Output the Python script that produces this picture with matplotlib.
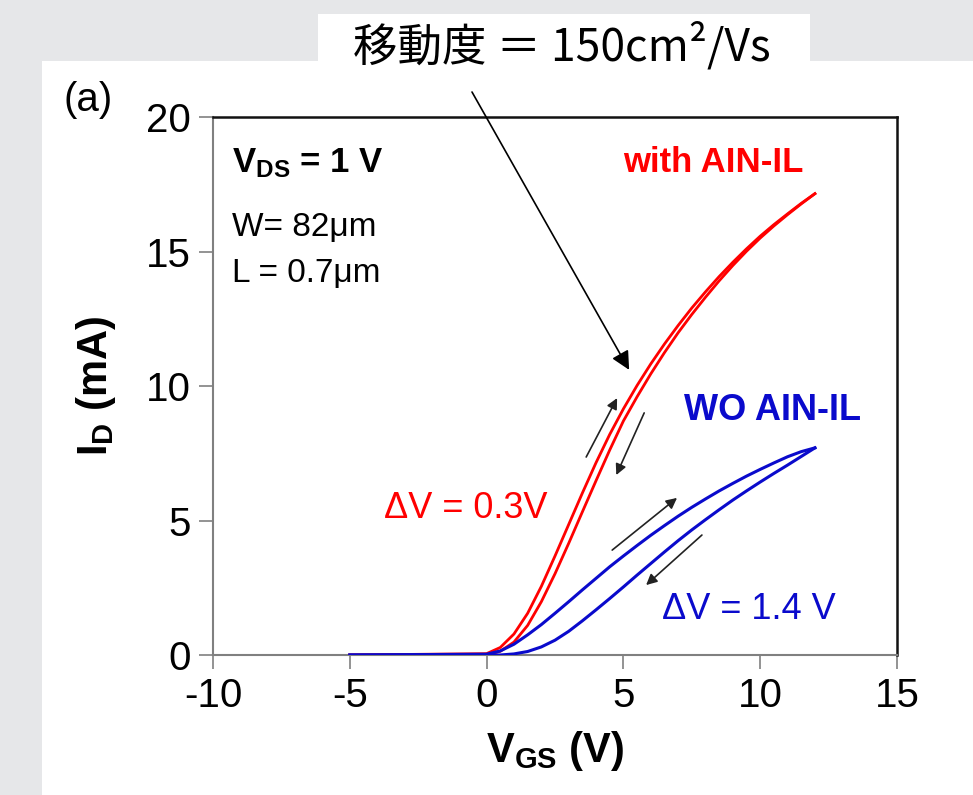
import matplotlib
matplotlib.use('Agg')
import matplotlib.pyplot as plt
from matplotlib.patches import Rectangle

# --- data (V_GS in V, I_D in mA) ---
vgs = [-5.0, 0.0, 0.5, 1.0, 1.5, 2.0, 2.5, 3.0, 3.5, 4.0, 4.5, 5.0, 5.5,
       6.0, 6.5, 7.0, 7.5, 8.0, 8.5, 9.0, 9.5, 10.0, 10.5, 11.0, 11.5, 12.0]

red_fwd = [0.0, 0.05, 0.28, 0.78, 1.55, 2.55, 3.68, 4.85, 6.02, 7.15, 8.2, 9.15, 10.02,
           10.82, 11.56, 12.25, 12.9, 13.5, 14.07, 14.6, 15.1, 15.57, 16.0, 16.4, 16.79, 17.15]
red_rev = [0.0, 0.0, 0.14, 0.48, 1.1, 1.98, 3.02, 4.15, 5.32, 6.48, 7.62, 8.7, 9.6,
           10.45, 11.24, 11.98, 12.66, 13.3, 13.91, 14.48, 15.01, 15.5, 15.95, 16.37, 16.77, 17.15]

blue_fwd = [0.0, 0.03, 0.15, 0.4, 0.75, 1.13, 1.55, 1.98, 2.42, 2.85, 3.28, 3.68, 4.07,
            4.45, 4.81, 5.16, 5.49, 5.8, 6.1, 6.38, 6.65, 6.9, 7.14, 7.37, 7.56, 7.7]
blue_rev = [0.0, 0.0, 0.0, 0.04, 0.13, 0.3, 0.55, 0.88, 1.27, 1.68, 2.1, 2.53, 2.97,
            3.4, 3.83, 4.25, 4.65, 5.03, 5.4, 5.76, 6.1, 6.43, 6.75, 7.06, 7.38, 7.7]

x_ticks = [-10, -5, 0, 5, 10, 15]
y_ticks = [0, 5, 10, 15, 20]

RED = '#ff0000'
BLUE = '#0a0acc'

plt.rcParams['font.family'] = ['Liberation Sans', 'DejaVu Sans']
plt.rcParams['mathtext.fontset'] = 'custom'
plt.rcParams['mathtext.rm'] = 'Liberation Sans'
plt.rcParams['mathtext.bf'] = 'Liberation Sans:bold'
plt.rcParams['mathtext.it'] = 'Liberation Sans:italic'

W, H = 973, 795
fig = plt.figure(figsize=(W / 100, H / 100), dpi=100, facecolor='#e6e7e9')

# white panel + white box behind the callout
fig.add_artist(Rectangle((42 / W, 0), 1 - 42 / W, 1 - 61 / H, transform=fig.transFigure,
                         facecolor='white', edgecolor='none', zorder=0))
fig.add_artist(Rectangle((318 / W, 1 - 61 / H), (810 - 318) / W, (61 - 14) / H,
                         transform=fig.transFigure, facecolor='white', edgecolor='none', zorder=0))

ax = fig.add_axes([213 / W, 1 - 655 / H, (897 - 213) / W, (655 - 117) / H])
ax.set_facecolor('white')

ax.plot(vgs, red_fwd, color=RED, lw=2.0, zorder=3)
ax.plot(vgs, red_rev, color=RED, lw=2.0, zorder=3)
ax.plot(vgs, blue_fwd, color=BLUE, lw=2.2, zorder=3)
ax.plot(vgs, blue_rev, color=BLUE, lw=2.2, zorder=3)

ax.set_xlim(-10, 15)
ax.set_ylim(0, 20)
ax.set_xticks(x_ticks)
ax.set_yticks(y_ticks)
ax.set_xticklabels([str(t) for t in x_ticks])
ax.tick_params(direction='out', length=10, width=1.2, color='#808080',
               labelsize=29, pad=6)

for side in ['left', 'bottom']:
    ax.spines[side].set_color('#808080')
    ax.spines[side].set_linewidth(1.5)
for side in ['top', 'right']:
    ax.spines[side].set_color('#111111')
    ax.spines[side].set_linewidth(1.8)

ax.set_xlabel(r'$\mathbf{V_{GS}}$ (V)', fontsize=30, fontweight='bold', labelpad=10)
ax.set_ylabel(r'$\mathbf{I_{D}}$ (mA)', fontsize=30, fontweight='bold', labelpad=20)

# annotations inside the axes
ax.text(-9.3, 18.3, r'$\mathbf{V_{DS}}$ = 1 V', fontsize=25, fontweight='bold', va='center')
ax.text(-9.3, 15.9, 'W= 82μm', fontsize=24, va='center')
ax.text(-9.3, 14.2, 'L = 0.7μm', fontsize=24, va='center')

ax.text(5.0, 18.3, 'with AIN-IL', fontsize=25, fontweight='bold', color=RED, va='center')
ax.text(7.2, 9.1, 'WO AIN-IL', fontsize=26, fontweight='bold', color=BLUE, va='center')
ax.text(-3.75, 5.45, 'ΔV = 0.3V', fontsize=26, color=RED, va='center')
ax.text(6.4, 1.7, 'ΔV = 1.4 V', fontsize=26, color=BLUE, va='center')

# sweep-direction arrows
small = dict(arrowstyle='-|>', lw=1.2, color='#222222', mutation_scale=16, shrinkA=0, shrinkB=0)
ax.annotate('', xy=(4.77, 9.55), xytext=(3.64, 7.36), arrowprops=small)
ax.annotate('', xy=(4.74, 6.69), xytext=(5.76, 9.0), arrowprops=small)
ax.annotate('', xy=(6.96, 5.84), xytext=(4.59, 3.9), arrowprops=small)
ax.annotate('', xy=(5.83, 2.6), xytext=(7.87, 4.46), arrowprops=small)

# callout arrow from the mobility label
ax.annotate('', xy=(5.21, 10.6), xytext=(472, H - 92), textcoords='figure pixels',
            arrowprops=dict(arrowstyle='-|>', lw=1.2, color='black', mutation_scale=28,
                            shrinkA=0, shrinkB=0), annotation_clip=False)

fig.text(562 / W, 1 - 46 / H, '移動度 ＝ 150cm²/Vs', fontsize=32,
         family=['Noto Sans CJK JP', 'DejaVu Sans'], ha='center', va='center')
fig.text(63 / W, 1 - 100 / H, '(a)', fontsize=29, va='center')

fig.savefig('out.png', dpi=100, facecolor=fig.get_facecolor())
